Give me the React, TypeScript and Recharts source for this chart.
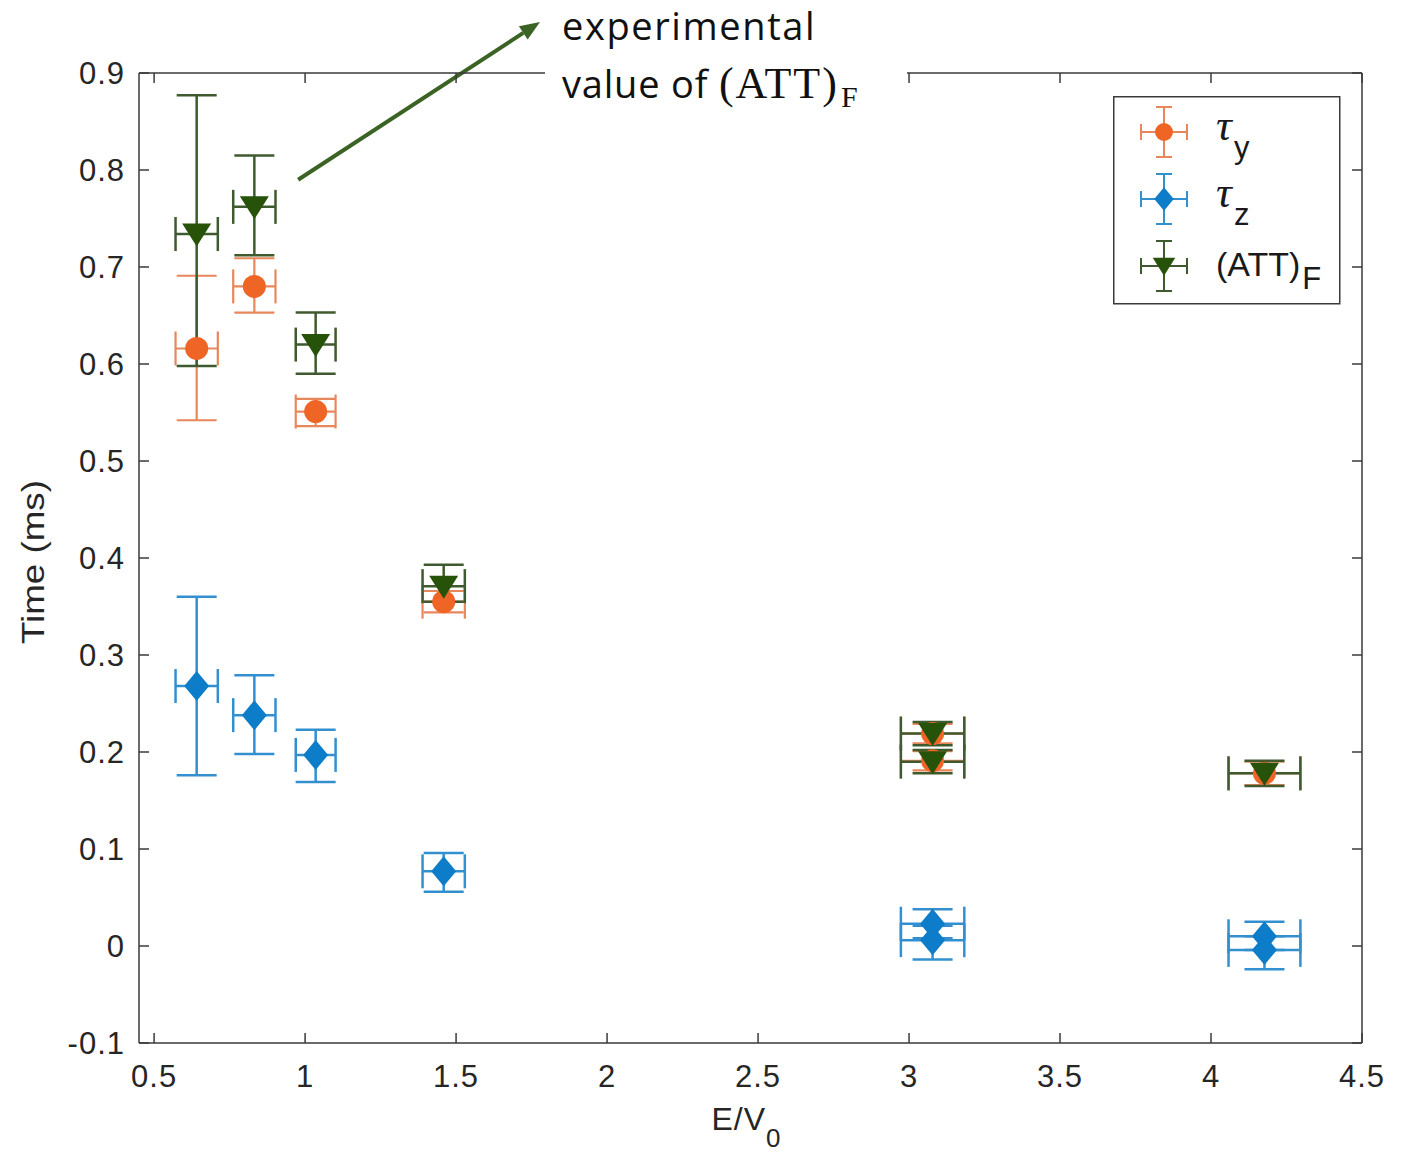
import React from "react";
import { ScatterChart, Scatter, XAxis, YAxis, ErrorBar, Legend, ReferenceLine } from "recharts";

// tick values
const xTicks = [0.5, 1, 1.5, 2, 2.5, 3, 3.5, 4, 4.5];
const yTicks = [-0.1, 0, 0.1, 0.2, 0.3, 0.4, 0.5, 0.6, 0.7, 0.8, 0.9];

// E/V0 positions of the measurements
const tauYX = [0.641, 0.832, 1.035, 1.459, 3.078, 3.078, 4.177];
const tauYVal = [0.616, 0.68, 0.551, 0.355, 0.219, 0.191, 0.178];
const tauYLo = [0.074, 0.027, 0.015, 0.011, 0.01, 0.01, 0.012];
const tauYHi = [0.075, 0.029, 0.013, 0.011, 0.01, 0.01, 0.012];
const tauYErrX = [0.07, 0.07, 0.066, 0.07, 0.105, 0.105, 0.119];

const tauZX = [0.641, 0.832, 1.035, 1.459, 3.078, 3.078, 4.177, 4.177];
const tauZVal = [0.268, 0.238, 0.197, 0.077, 0.023, 0.006, 0.01, -0.004];
const tauZLo = [0.092, 0.04, 0.028, 0.021, 0.015, 0.02, 0.014, 0.02];
const tauZHi = [0.092, 0.041, 0.026, 0.019, 0.015, 0.015, 0.015, 0.014];
const tauZErrX = [0.07, 0.07, 0.066, 0.07, 0.105, 0.105, 0.119, 0.119];

const attX = [0.641, 0.832, 1.035, 1.459, 3.078, 3.078, 4.177];
const attVal = [0.734, 0.762, 0.62, 0.371, 0.219, 0.19, 0.178];
const attLo = [0.136, 0.05, 0.03, 0.016, 0.012, 0.012, 0.013];
const attHi = [0.143, 0.053, 0.033, 0.022, 0.012, 0.012, 0.013];
const attErrX = [0.07, 0.07, 0.066, 0.07, 0.105, 0.105, 0.119];

const build = (xs: number[], ys: number[], lo: number[], hi: number[], ex: number[]) =>
  xs.map((x, i) => ({ x, y: ys[i], ey: [lo[i], hi[i]], ex: ex[i] }));

const tauYData = build(tauYX, tauYVal, tauYLo, tauYHi, tauYErrX);
const tauZData = build(tauZX, tauZVal, tauZLo, tauZHi, tauZErrX);
const attData = build(attX, attVal, attLo, attHi, attErrX);

const ORANGE = "#EE6526";
const ORANGE_BAR = "#E8875C";
const BLUE = "#0D7CC9";
const BLUE_BAR = "#3390D0";
const GREEN = "#265309";
const GREEN_BAR = "#3E5A2E";
const AXIS = "#3a3a3a";
const FONT = "'Liberation Sans', Arial, Helvetica, sans-serif";

const CircleMark = ({ cx, cy, s = 1 }: any) => <circle cx={cx} cy={cy} r={11.5 * s} fill={ORANGE} />;
const DiamondMark = ({ cx, cy, s = 1 }: any) => (
  <polygon
    points={`${cx},${cy - 15 * s} ${cx + 12.5 * s},${cy} ${cx},${cy + 15 * s} ${cx - 12.5 * s},${cy}`}
    fill={BLUE}
  />
);
const TriMark = ({ cx, cy, s = 1 }: any) => (
  <polygon
    points={`${cx - 14.5 * s},${cy - 10.5 * s} ${cx + 14.5 * s},${cy - 10.5 * s} ${cx},${cy + 12.5 * s}`}
    fill={GREEN}
  />
);

const seriesMeta = [
  { main: "τ", sub: "y", bar: ORANGE_BAR, Mark: CircleMark, italic: true },
  { main: "τ", sub: "z", bar: BLUE_BAR, Mark: DiamondMark, italic: true },
  { main: "(ATT)", sub: "F", bar: GREEN_BAR, Mark: TriMark, italic: false },
];

const renderLegend = () => (
  <svg width={228} height={209}>
    <rect x={0.75} y={0.75} width={226} height={207} fill="#fff" stroke={AXIS} strokeWidth={1.5} />
    {seriesMeta.map((m, i) => {
      const cy = 36 + i * 67;
      const cx = 51;
      return (
        <g key={i} stroke={m.bar} strokeWidth={2}>
          <line x1={cx} x2={cx} y1={cy - 25} y2={cy + 25} />
          <line x1={cx - 8} x2={cx + 8} y1={cy - 25} y2={cy - 25} />
          <line x1={cx - 8} x2={cx + 8} y1={cy + 25} y2={cy + 25} />
          <line x1={cx - 23} x2={cx + 23} y1={cy} y2={cy} />
          <line x1={cx - 23} x2={cx - 23} y1={cy - 8} y2={cy + 8} />
          <line x1={cx + 23} x2={cx + 23} y1={cy - 8} y2={cy + 8} />
          <g stroke="none">
            <m.Mark cx={cx} cy={cy} s={0.78} />
          </g>
          {m.italic ? (
            <text x={103} y={cy + 8} stroke="none" fill="#1a1a1a" fontFamily="'Liberation Serif', serif" fontStyle="italic" fontSize={44}>
              {m.main}
              <tspan x={121} y={cy + 26} fontFamily={FONT} fontStyle="normal" fontSize={31}>{m.sub}</tspan>
            </text>
          ) : (
            <text x={103} y={cy + 10} stroke="none" fill="#1a1a1a" fontFamily={FONT} fontSize={34}>
              {m.main}
              <tspan dx={2} dy={13} fontSize={31}>{m.sub}</tspan>
            </text>
          )}
        </g>
      );
    })}
  </svg>
);

const ArrowShape = (props: any) => {
  const { x1, y1, x2, y2 } = props;
  const a = Math.atan2(y2 - y1, x2 - x1);
  const L = 20;
  const W = 8;
  const bx = x2 - L * Math.cos(a);
  const by = y2 - L * Math.sin(a);
  const px = -Math.sin(a) * W;
  const py = Math.cos(a) * W;
  return (
    <g>
      <line x1={x1} y1={y1} x2={bx} y2={by} stroke="#3B6324" strokeWidth={4} />
      <polygon points={`${x2},${y2} ${bx + px},${by + py} ${bx - px},${by - py}`} fill="#3B6324" />
    </g>
  );
};

const tickStyle = { fontSize: 31, fill: "#262626", fontFamily: FONT, letterSpacing: 1 };
const noTick = () => <g />;
const hidden = () => <g />;

export default function App() {
  return (
    <div style={{ position: "absolute", left: 0, top: 0, width: 1411, height: 1154, background: "#fff" }}>
      <ScatterChart width={1411} height={1154} margin={{ top: 72, right: 48, bottom: 0, left: 0 }}>
        <XAxis
          type="number"
          dataKey="x"
          domain={[0.45, 4.5]}
          allowDataOverflow
          ticks={xTicks}
          interval={0}
          height={111}
          tickSize={-10}
          tickMargin={32}
          stroke={AXIS}
          strokeWidth={1.5}
          tick={tickStyle}
          label={{
            content: ({ viewBox }: any) => (
              <text x={viewBox.x + viewBox.width / 2 - 4} y={viewBox.y + 87} textAnchor="middle" fontFamily={FONT} fontSize={32} fill="#262626" letterSpacing={1}>
                E/V<tspan dy={17} fontSize={26}>0</tspan>
              </text>
            ),
          }}
        />
        <XAxis
          xAxisId="top"
          orientation="top"
          type="number"
          dataKey="x"
          domain={[0.45, 4.5]}
          allowDataOverflow
          ticks={xTicks}
          interval={0}
          height={1}
          tickSize={-10}
          stroke={AXIS}
          strokeWidth={1.5}
          tick={noTick}
        />
        <YAxis
          type="number"
          dataKey="y"
          domain={[-0.1, 0.9]}
          allowDataOverflow
          ticks={yTicks}
          interval={0}
          width={139}
          tickSize={-10}
          tickMargin={24}
          stroke={AXIS}
          strokeWidth={1.5}
          tick={tickStyle}
          tickFormatter={(v: number) => String(v)}
          label={{
            content: ({ viewBox }: any) => {
              const cx = viewBox.x + 44;
              const cy = viewBox.y + viewBox.height / 2 + 4;
              return (
                <text
                  x={cx}
                  y={cy}
                  transform={`rotate(-90, ${cx}, ${cy})`}
                  textAnchor="middle"
                  fontFamily={FONT}
                  fontSize={31}
                  fill="#262626"
                  textLength={164}
                  lengthAdjust="spacingAndGlyphs"
                >
                  Time (ms)
                </text>
              );
            },
          }}
        />
        <YAxis
          yAxisId="right"
          orientation="right"
          type="number"
          dataKey="y"
          domain={[-0.1, 0.9]}
          allowDataOverflow
          ticks={yTicks}
          interval={0}
          width={1}
          tickSize={-10}
          stroke={AXIS}
          strokeWidth={1.5}
          tick={noTick}
        />
        <Legend layout="vertical" align="center" verticalAlign="middle" content={renderLegend} wrapperStyle={{ left: 1113, top: 96, width: 228, height: 209 }} />
        {/* invisible series so the mirrored top/right axes are drawn */}
        <Scatter name="frame" xAxisId="top" yAxisId="right" data={attData} legendType="none" isAnimationActive={false} shape={hidden} />
        <Scatter name="τy" data={tauYData} fill={ORANGE} isAnimationActive={false} shape={(p: any) => <CircleMark cx={p.cx} cy={p.cy} />}>
          <ErrorBar dataKey="ey" direction="y" width={20} stroke={ORANGE_BAR} strokeWidth={2.2} isAnimationActive={false} />
          <ErrorBar dataKey="ex" direction="x" width={17} stroke={ORANGE_BAR} strokeWidth={2.2} isAnimationActive={false} />
        </Scatter>
        <Scatter name="τz" data={tauZData} fill={BLUE} isAnimationActive={false} shape={(p: any) => <DiamondMark cx={p.cx} cy={p.cy} />}>
          <ErrorBar dataKey="ey" direction="y" width={20} stroke={BLUE_BAR} strokeWidth={2.5} isAnimationActive={false} />
          <ErrorBar dataKey="ex" direction="x" width={17} stroke={BLUE_BAR} strokeWidth={2.5} isAnimationActive={false} />
        </Scatter>
        <Scatter name="(ATT)F" data={attData} fill={GREEN} isAnimationActive={false} shape={(p: any) => <TriMark cx={p.cx} cy={p.cy} />}>
          <ErrorBar dataKey="ey" direction="y" width={20} stroke={GREEN_BAR} strokeWidth={2.5} isAnimationActive={false} />
          <ErrorBar dataKey="ex" direction="x" width={17} stroke={GREEN_BAR} strokeWidth={2.5} isAnimationActive={false} />
        </Scatter>
        <ReferenceLine
          segment={[{ x: 0.977, y: 0.79 }, { x: 1.778, y: 0.9526 }]}
          ifOverflow="visible"
          shape={ArrowShape}
        />
      </ScatterChart>
      <svg style={{ position: "absolute", left: 545, top: 0 }} width={362} height={116}>
        <rect x={0} y={0} width={362} height={116} fill="#fff" />
        <text x={17} y={40} fontFamily="'Open Sans', 'Noto Sans', sans-serif" fontSize={38} letterSpacing={1.6} fill="#111">
          experimental
        </text>
        <text x={17} y={98} fill="#111" fontSize={38}>
          <tspan fontFamily="'Open Sans', 'Noto Sans', sans-serif" letterSpacing={0.8}>value of </tspan>
          <tspan fontFamily="'Liberation Serif', 'DejaVu Serif', serif" fontSize={44} letterSpacing={2}>(ATT)</tspan>
          <tspan fontFamily="'Liberation Serif', 'DejaVu Serif', serif" fontSize={30} dy={9} dx={2}>F</tspan>
        </text>
      </svg>
    </div>
  );
}
